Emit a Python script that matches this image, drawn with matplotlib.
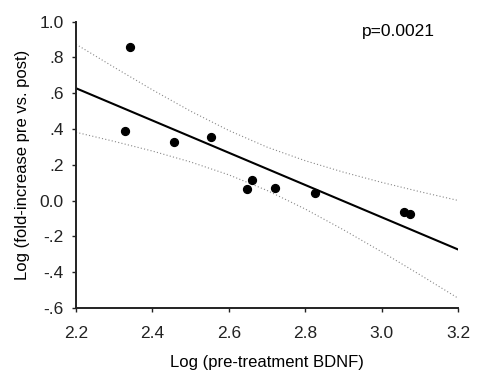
import matplotlib
matplotlib.use("Agg")
import matplotlib.pyplot as plt

plt.rcParams["font.family"] = ["Liberation Sans", "DejaVu Sans"]

# data points
log_bdnf = [2.341, 2.327, 2.456, 2.553, 2.647, 2.660, 2.721, 2.826, 3.059, 3.074]
log_fold = [0.859, 0.389, 0.327, 0.356, 0.063, 0.117, 0.069, 0.044, -0.065, -0.075]

# regression line end points
fit_x = [2.2, 3.2]
fit_y = [0.628, -0.273]

# 95% confidence bands
band_x = [2.2, 2.3, 2.4, 2.5, 2.6, 2.7, 2.8, 2.9, 3.0, 3.1, 3.2]
band_hi = [0.874, 0.745, 0.619, 0.500, 0.392, 0.299, 0.223, 0.159, 0.102, 0.050, 0.001]
band_lo = [0.382, 0.331, 0.277, 0.216, 0.144, 0.057, -0.047, -0.163, -0.286, -0.414, -0.545]

x_ticks = [2.2, 2.4, 2.6, 2.8, 3.0, 3.2]
x_labels = ["2.2", "2.4", "2.6", "2.8", "3.0", "3.2"]
y_ticks = [1.0, 0.8, 0.6, 0.4, 0.2, 0.0, -0.2, -0.4, -0.6]
y_labels = ["1.0", ".8", ".6", ".4", ".2", "0.0", "-.2", "-.4", "-.6"]

fig = plt.figure(figsize=(4.82, 3.90), dpi=100)
ax = fig.add_axes([0.1577, 0.2103, 0.7926, 0.7341])

ax.plot(band_x, band_hi, color="#888888", lw=0.8, ls=(0, (1, 2)))
ax.plot(band_x, band_lo, color="#888888", lw=0.8, ls=(0, (1, 2)))
ax.plot(fit_x, fit_y, color="black", lw=1.5)
ax.scatter(log_bdnf, log_fold, s=32, color="black", zorder=3)

ax.set_xlim(2.2, 3.2)
ax.set_ylim(-0.6, 1.0)
ax.set_xticks(x_ticks)
ax.set_xticklabels(x_labels)
ax.set_yticks(y_ticks)
ax.set_yticklabels(y_labels)
ax.tick_params(direction="out", length=3, width=1, labelsize=12.5, colors="#222222")
ax.tick_params(axis="x", pad=10)
ax.tick_params(axis="y", pad=6)

for side in ["top", "right"]:
    ax.spines[side].set_visible(False)
for side in ["left", "bottom"]:
    ax.spines[side].set_linewidth(1.4)
    ax.spines[side].set_color("#222222")

ax.set_xlabel("Log (pre-treatment BDNF)", fontsize=12, labelpad=10)
ax.set_ylabel("Log (fold-increase pre vs. post)", fontsize=12, labelpad=7)
ax.text(0.843, 0.965, "p=0.0021", transform=ax.transAxes, fontsize=12.5,
        ha="center", va="center")

fig.savefig("out.png", dpi=100)
